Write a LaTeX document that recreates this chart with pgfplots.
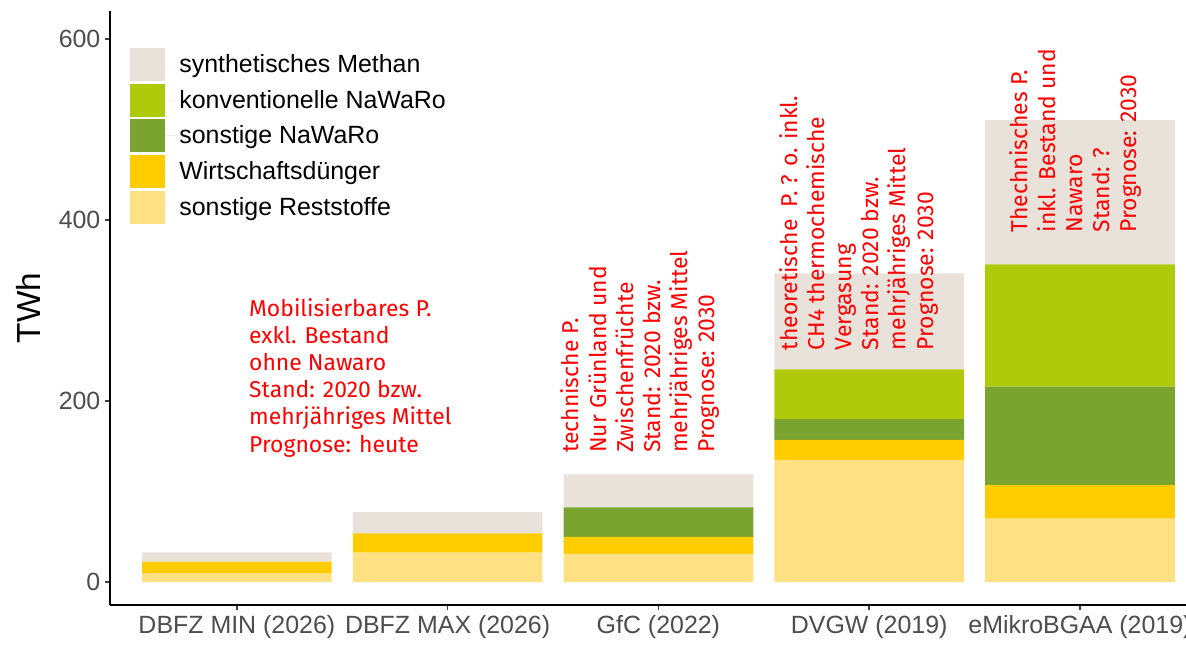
\documentclass[border=0pt]{standalone}
\usepackage{fontspec}
\setmainfont{Liberation Sans}
\newfontfamily\annot{Fira Sans}
\usepackage{pgfplots}
\pgfplotsset{compat=1.18}
\usepackage{pgfplotstable}
\definecolor{cSyn}{HTML}{E9E2DA}
\definecolor{cKonv}{HTML}{AFCA0B}
\definecolor{cSon}{HTML}{7AA32F}
\definecolor{cWD}{HTML}{FFCC00}
\definecolor{cRest}{HTML}{FFE183}
\definecolor{tickgray}{HTML}{4D4D4D}
\pgfplotstableread{
x rest wd son konv syn
1 9.3 13.1 0 0 10.4
2 32.4 21.4 0 0 23.5
3 31 19 32.5 0 36.5
4 135 22 23 55 106
5 70 37 109 135 159.5
}\data
\begin{document}
\begin{tikzpicture}
\begin{axis}[
  at={(82.8pt,34.5pt)}, anchor=south west,
  scale only axis, width=822pt, height=445.5pt,
  xmin=0.4, xmax=5.6, ymin=-25.4, ymax=631,
  axis lines=left,
  axis line style={-, line width=1.4pt, black},
  ybar stacked, bar width=0.9,
  xtick={1,2,3,4,5},
  xticklabels={DBFZ MIN (2026),DBFZ MAX (2026),GfC (2022),DVGW (2019),eMikroBGAA (2019)},
  ytick={0,200,400,600},
  tick align=outside,
  major tick length=4pt,
  tick style={line width=1.1pt, black!75},
  tick label style={font=\fontsize{18.7}{22}\selectfont, text=tickgray},
  /pgf/number format/assume math mode=true,
  ylabel={TWh},
  ylabel style={font=\fontsize{25}{28}\selectfont, text=black, yshift=7pt},
  reverse legend,
  legend style={at={(0.014,0.943)}, anchor=north west, draw=none, fill=none,
    font=\fontsize{18.7}{22}\selectfont, row sep=2pt, column sep=0pt,
    nodes={inner sep=0pt}},
  legend cell align=left,
  legend image code/.code={\fill[#1,draw=none] (0pt,-12.4pt) rectangle (26pt,12.4pt); \path (0pt,0pt) -- (37pt,0pt);},
  clip=false,
]
\addplot[fill=cRest, draw=none] table[x=x,y=rest] {\data};
\addlegendentry{sonstige Reststoffe}
\addplot[fill=cWD, draw=none] table[x=x,y=wd] {\data};
\addlegendentry{Wirtschaftsdünger}
\addplot[fill=cSon, draw=none] table[x=x,y=son] {\data};
\addlegendentry{sonstige NaWaRo}
\addplot[fill=cKonv, draw=none] table[x=x,y=konv] {\data};
\addlegendentry{konventionelle NaWaRo}
\addplot[fill=cSyn, draw=none] table[x=x,y=syn] {\data};
\addlegendentry{synthetisches Methan}
\coordinate (t1) at (axis cs:1.057,314);
\coordinate (t2) at (axis cs:2.915,142.5);
\coordinate (t3) at (axis cs:3.95,256);
\coordinate (t4) at (axis cs:4.98,386);
\end{axis}
\begin{scope}[every node/.style={inner sep=0pt, text=red, align=left,
  font=\annot\fontsize{17.2}{20.4}\selectfont}]
\node[anchor=north west] at (t1)
  {Mobilisierbares P.\\exkl. Bestand\\ohne Nawaro\\Stand: 2020 bzw.\\mehrjähriges Mittel\\Prognose: heute};
\node[anchor=west, rotate=90] at (t2)
  {technische P.\\Nur Grünland und\\Zwischenfrüchte\\Stand: 2020 bzw.\\mehrjähriges Mittel\\Prognose: 2030};
\node[anchor=west, rotate=90] at (t3)
  {theoretische\ \ P. ? o. inkl.\\CH4 thermochemische\\Vergasung\\Stand: 2020 bzw.\\mehrjähriges Mittel\\Prognose: 2030};
\node[anchor=west, rotate=90] at (t4)
  {Thechnisches P.\\inkl. Bestand und\\Nawaro\\Stand: ?\\Prognose: 2030};
\end{scope}
\pgfresetboundingbox
\path[use as bounding box] (0,0) rectangle (889.5pt,488.25pt);
\end{tikzpicture}
\end{document}
